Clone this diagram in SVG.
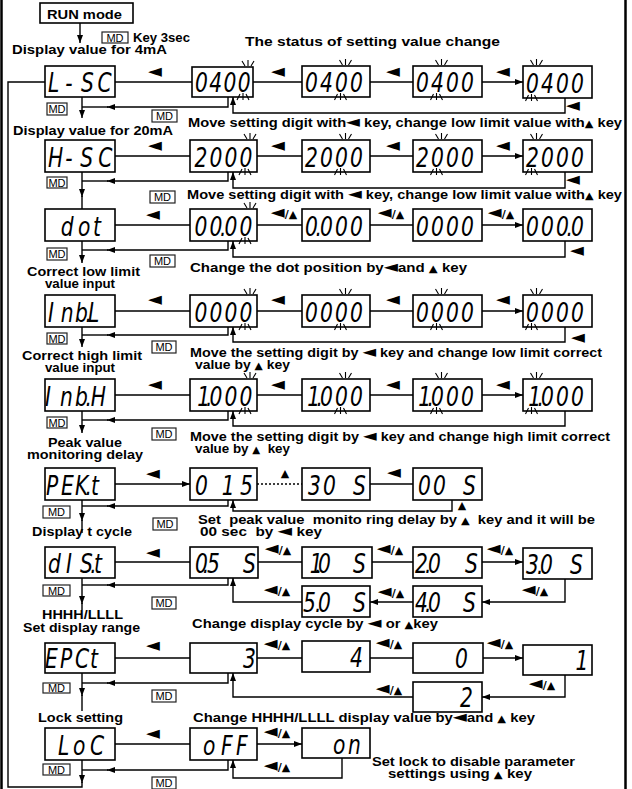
<svg xmlns="http://www.w3.org/2000/svg" xmlns:xlink="http://www.w3.org/1999/xlink" width="632" height="789" viewBox="0 0 632 789">
<defs>
<style>
.bx{fill:#fff;stroke:#000;stroke-width:1.6}
.ln{fill:none;stroke:#000;stroke-width:1.4}
.ar{marker-end:url(#ah)}
.dt{stroke-dasharray:2 2}
.t{font-family:"Liberation Sans",Arial,sans-serif;font-weight:bold;font-size:13px;fill:#000}
.sm{font-family:"DejaVu Sans",sans-serif;font-size:16px}
.sa{font-family:"DejaVu Sans",sans-serif;font-size:10px}
.sg{font-family:"DejaVu Sans",sans-serif;font-style:italic;font-size:27px;fill:#000}
.sy{font-family:"DejaVu Sans",sans-serif;font-weight:bold;font-size:18px;fill:#000;text-anchor:middle}
.sl{font-size:11px}
.tr{font-size:11px}
.md rect{fill:#fff;stroke:#222;stroke-width:1.2}
.md text{font-family:"Liberation Sans",Arial,sans-serif;font-size:11px;fill:#000;text-anchor:middle}
.bk{fill:none;stroke:#000;stroke-width:1.1}
</style>
<marker id="ah" viewBox="0 0 8 6" refX="8" refY="3" markerWidth="8" markerHeight="6" markerUnits="userSpaceOnUse" orient="auto"><path d="M0,0L8,3L0,6z"/></marker>
<path id="bt" class="bk" d="M-6,-6L-3,-1M0,-7V-1M6,-6L3,-1"/>
<path id="bb" class="bk" d="M-6,3L-3,-3M0,3V-4M6,3L3,-3"/>
</defs>
<rect x="1.5" y="-5" width="624" height="810" fill="none" stroke="#000" stroke-width="2.5"/>

<g id="connectors">
<path class="ln ar" d="M80,23V43"/>
<path class="ln ar" d="M115,82H192M253,82H302M370,82H413M482,82H523"/>
<path class="ln ar" d="M115,156H190M257,156H302M370,156H413M482,156H523"/>
<path class="ln ar" d="M115,225H190M257,225H302M370,225H413M482,225H523"/>
<path class="ln ar" d="M115,311H190M257,311H302M370,311H413M482,311H523"/>
<path class="ln ar" d="M115,395H190M257,395H302M370,395H413M482,395H523"/>
<path class="ln ar" d="M115,484H190"/>
<path class="ln dt" d="M257,484H302"/>
<path class="ln" d="M370,484H413"/>
<path class="ln ar" d="M115,562H190M258,562H302M372,562H413M482,562H523"/>
<path class="ln ar" d="M565,579V602H482"/>
<path class="ln ar" d="M413,602H370"/>
<path class="ln ar" d="M302,602H233V578"/>
<path class="ln ar" d="M115,658H190M257,658H302M370,658H413M483,658H523"/>
<path class="ln ar" d="M565,675V697H482"/>
<path class="ln ar" d="M413,697H233V673"/>
<path class="ln ar" d="M115,744H190M257,744H302"/>
<path class="ln ar" d="M342,758V778H233V760"/>
<path class="ln ar" d="M565,98V113H233V97"/>
<path class="ln ar" d="M565,172V188H233V172"/>
<path class="ln ar" d="M565,241V257H233V241"/>
<path class="ln ar" d="M565,327V342H233V327"/>
<path class="ln ar" d="M565,411V426H233V411"/>
<path class="ln ar" d="M452,500V511H233V500"/>
<path class="ln ar" d="M228,97V107H107"/><path class="ln" d="M108,107H82"/>
<path class="ln ar" d="M228,172V181H107"/><path class="ln" d="M108,181H82"/>
<path class="ln ar" d="M228,241V250H107"/><path class="ln" d="M108,250H82"/>
<path class="ln ar" d="M228,327V335H107"/><path class="ln" d="M108,335H82"/>
<path class="ln ar" d="M228,411V420H107"/><path class="ln" d="M108,420H82"/>
<path class="ln ar" d="M228,500V506H107"/><path class="ln" d="M108,506H82"/>
<path class="ln ar" d="M228,578V585H107"/><path class="ln" d="M108,585H82"/>
<path class="ln ar" d="M228,673V683H107"/><path class="ln" d="M108,683H82"/>
<path class="ln ar" d="M228,760V770H107"/><path class="ln" d="M108,770H82"/>
<path class="ln ar" d="M82,97V118"/>
<path class="ln ar" d="M82,172V197"/><path class="ln" d="M82,196V209"/>
<path class="ln ar" d="M82,241V263"/>
<path class="ln ar" d="M82,327V347"/>
<path class="ln ar" d="M82,411V433"/>
<path class="ln ar" d="M82,500V521"/><path class="ln" d="M82,520V533"/>
<path class="ln ar" d="M82,578V604"/><path class="ln" d="M82,603V610"/>
<path class="ln ar" d="M82,673V696"/><path class="ln" d="M82,695V711"/>
<path class="ln ar" d="M82,760V783"/><path class="ln" d="M82,782V787H8V82H45"/>
<g id="conn-labels">
<text class="sy" x="155" y="77">◄</text><text class="sy" x="278" y="77">◄</text><text class="sy" x="393" y="77">◄</text><text class="sy" x="503" y="77">◄</text><text class="sy" x="573" y="111">◄</text>
<text class="sy" x="155" y="151">◄</text><text class="sy" x="278" y="151">◄</text><text class="sy" x="393" y="151">◄</text><text class="sy" x="503" y="151">◄</text><text class="sy" x="573" y="185">◄</text>
<text class="sy" x="153" y="220">◄</text>
<text class="sy" x="284" y="218">◄<tspan class="sl">/</tspan><tspan class="tr">▲</tspan></text>
<text class="sy" x="391" y="218">◄<tspan class="sl">/</tspan><tspan class="tr">▲</tspan></text>
<text class="sy" x="501" y="218">◄<tspan class="sl">/</tspan><tspan class="tr">▲</tspan></text>
<text class="sy" x="577" y="256">◄</text>
<text class="sy" x="155" y="305">◄</text><text class="sy" x="278" y="305">◄</text><text class="sy" x="393" y="305">◄</text><text class="sy" x="503" y="305">◄</text><text class="sy" x="578" y="343">◄</text>
<text class="sy" x="155" y="390">◄</text><text class="sy" x="278" y="390">◄</text><text class="sy" x="393" y="390">◄</text><text class="sy" x="503" y="390">◄</text>
<text class="sy" x="153" y="479">◄</text><text class="sy tr" x="285" y="477">▲</text><text class="sy" x="394" y="478">◄</text><text class="sy tr" x="462" y="509">▲</text>
<text class="sy" x="153" y="558">◄</text>
<text class="sy" x="278" y="554">◄<tspan class="sl">/</tspan><tspan class="tr">▲</tspan></text>
<text class="sy" x="390" y="554">◄<tspan class="sl">/</tspan><tspan class="tr">▲</tspan></text>
<text class="sy" x="500" y="554">◄<tspan class="sl">/</tspan><tspan class="tr">▲</tspan></text>
<text class="sy" x="535" y="595">◄<tspan class="sl">/</tspan><tspan class="tr">▲</tspan></text>
<text class="sy" x="391" y="597">◄<tspan class="sl">/</tspan><tspan class="tr">▲</tspan></text>
<text class="sy" x="277" y="595">◄<tspan class="sl">/</tspan><tspan class="tr">▲</tspan></text>
<text class="sy" x="153" y="651">◄</text>
<text class="sy" x="277" y="649">◄<tspan class="sl">/</tspan><tspan class="tr">▲</tspan></text>
<text class="sy" x="389" y="648">◄<tspan class="sl">/</tspan><tspan class="tr">▲</tspan></text>
<text class="sy" x="500" y="648">◄<tspan class="sl">/</tspan><tspan class="tr">▲</tspan></text>
<text class="sy" x="542" y="689">◄<tspan class="sl">/</tspan><tspan class="tr">▲</tspan></text>
<text class="sy" x="389" y="694">◄<tspan class="sl">/</tspan><tspan class="tr">▲</tspan></text>
<text class="sy" x="153" y="739">◄</text>
<text class="sy" x="277" y="737">◄<tspan class="sl">/</tspan><tspan class="tr">▲</tspan></text>
<text class="sy" x="277" y="771">◄<tspan class="sl">/</tspan><tspan class="tr">▲</tspan></text>
</g>
</g>

<g id="run"><rect class="bx" x="40" y="3" width="93" height="20"/><text class="t" x="47" y="19" textLength="75" lengthAdjust="spacingAndGlyphs">RUN mode</text></g>

<g id="md-keys">
<g class="md" transform="translate(102,32)"><rect width="26" height="11"/><text x="13" y="9.5">MD</text></g>
<g class="md" transform="translate(47,103)"><rect width="20" height="12"/><text x="10" y="10">MD</text></g>
<g class="md" transform="translate(152,110)"><rect width="25" height="12"/><text x="12.5" y="10">MD</text></g>
<g class="md" transform="translate(47,177)"><rect width="20" height="11"/><text x="10" y="9.5">MD</text></g>
<g class="md" transform="translate(150,191)"><rect width="25" height="12"/><text x="12.5" y="10">MD</text></g>
<g class="md" transform="translate(47,248)"><rect width="20" height="12"/><text x="10" y="10">MD</text></g>
<g class="md" transform="translate(150,255)"><rect width="25" height="12"/><text x="12.5" y="10">MD</text></g>
<g class="md" transform="translate(47,333)"><rect width="20" height="11"/><text x="10" y="9.5">MD</text></g>
<g class="md" transform="translate(152,341)"><rect width="24" height="12"/><text x="12" y="10">MD</text></g>
<g class="md" transform="translate(47,417)"><rect width="20" height="11"/><text x="10" y="9.5">MD</text></g>
<g class="md" transform="translate(152,428)"><rect width="24" height="12"/><text x="12" y="10">MD</text></g>
<g class="md" transform="translate(43,506)"><rect width="27" height="12"/><text x="13.5" y="10">MD</text></g>
<g class="md" transform="translate(153,518)"><rect width="24" height="12"/><text x="12" y="10">MD</text></g>
<g class="md" transform="translate(43,585)"><rect width="27" height="11"/><text x="13.5" y="9.5">MD</text></g>
<g class="md" transform="translate(152,597)"><rect width="24" height="12"/><text x="12" y="10">MD</text></g>
<g class="md" transform="translate(43,683)"><rect width="27" height="10"/><text x="13.5" y="9">MD</text></g>
<g class="md" transform="translate(152,690)"><rect width="24" height="12"/><text x="12" y="10">MD</text></g>
<g class="md" transform="translate(43,764)"><rect width="27" height="11"/><text x="13.5" y="9.5">MD</text></g>
<g class="md" transform="translate(152,777)"><rect width="24" height="12"/><text x="12" y="10">MD</text></g>
</g>

<g id="r1c0" transform="translate(45,66)"><rect class="bx" width="70" height="31"/><text class="sg" transform="scale(.75,1)" x="4 27 48 70" y="26">L-SC</text></g>
<g id="r1c1" transform="translate(192,67)"><rect class="bx" width="61" height="30"/><text class="sg" transform="scale(.75,1)" x="4 23 42 61" y="25">0400</text><use xlink:href="#bt" x="56" y="0"/><use xlink:href="#bb" x="51" y="30"/></g>
<g id="r1c2" transform="translate(302,66)"><rect class="bx" width="68" height="31"/><text class="sg" transform="scale(.75,1)" x="4 24 44 64" y="26">0400</text><use xlink:href="#bt" x="43.5" y="0"/><use xlink:href="#bb" x="38.5" y="31"/></g>
<g id="r1c3" transform="translate(413,66)"><rect class="bx" width="69" height="31"/><text class="sg" transform="scale(.75,1)" x="4 24 44 64" y="26">0400</text><use xlink:href="#bt" x="28.5" y="0"/><use xlink:href="#bb" x="23.5" y="31"/></g>
<g id="r1c4" transform="translate(523,66)"><rect class="bx" width="69" height="32"/><text class="sg" transform="scale(.75,1)" x="4 24 44 64" y="27">0400</text><use xlink:href="#bt" x="13.5" y="0"/><use xlink:href="#bb" x="8.5" y="32"/></g>

<g id="r2c0" transform="translate(45,140)"><rect class="bx" width="70" height="32"/><text class="sg" transform="scale(.75,1)" x="4 27 47 71" y="27">H-SC</text></g>
<g id="r2c1" transform="translate(190,140)"><rect class="bx" width="67" height="32"/><text class="sg" transform="scale(.75,1)" x="6 26 46 66" y="27">2000</text><use xlink:href="#bt" x="60" y="0"/><use xlink:href="#bb" x="55" y="32"/></g>
<g id="r2c2" transform="translate(302,140)"><rect class="bx" width="68" height="32"/><text class="sg" transform="scale(.75,1)" x="4 24 44 64" y="27">2000</text><use xlink:href="#bt" x="43.5" y="0"/><use xlink:href="#bb" x="38.5" y="32"/></g>
<g id="r2c3" transform="translate(413,140)"><rect class="bx" width="69" height="32"/><text class="sg" transform="scale(.75,1)" x="4 24 44 64" y="27">2000</text><use xlink:href="#bt" x="28.5" y="0"/><use xlink:href="#bb" x="23.5" y="32"/></g>
<g id="r2c4" transform="translate(523,140)"><rect class="bx" width="69" height="32"/><text class="sg" transform="scale(.75,1)" x="4 24 44 64" y="27">2000</text><use xlink:href="#bt" x="13.5" y="0"/><use xlink:href="#bb" x="8.5" y="32"/></g>

<g id="r3c0" transform="translate(45,209)"><rect class="bx" width="70" height="32"/><text class="sg" transform="scale(.75,1)" x="21 44 64" y="27">dot</text></g>
<g id="r3c1" transform="translate(190,209)"><rect class="bx" width="67" height="32"/><text class="sg" transform="scale(.75,1)" x="6 26 40 46 66" y="27">00.00</text><use xlink:href="#bt" x="60" y="0"/><use xlink:href="#bb" x="55" y="32"/></g>
<g id="r3c2" transform="translate(302,209)"><rect class="bx" width="68" height="32"/><text class="sg" transform="scale(.75,1)" x="4 18 24 44 64" y="27">0.000</text></g>
<g id="r3c3" transform="translate(413,209)"><rect class="bx" width="69" height="32"/><text class="sg" transform="scale(.75,1)" x="4 24 44 64" y="27">0000</text></g>
<g id="r3c4" transform="translate(523,209)"><rect class="bx" width="69" height="32"/><text class="sg" transform="scale(.75,1)" x="4 24 44 58 64" y="27">000.0</text></g>

<g id="r4c0" transform="translate(45,295)"><rect class="bx" width="70" height="32"/><text class="sg" transform="scale(.75,1)" x="4 21 40 54 57.3" y="27">Inb.L</text></g>
<g id="r4c1" transform="translate(190,295)"><rect class="bx" width="67" height="32"/><text class="sg" transform="scale(.75,1)" x="6 26 46 66" y="27">0000</text><use xlink:href="#bt" x="60" y="0"/><use xlink:href="#bb" x="55" y="32"/></g>
<g id="r4c2" transform="translate(302,295)"><rect class="bx" width="68" height="32"/><text class="sg" transform="scale(.75,1)" x="4 24 44 64" y="27">0000</text><use xlink:href="#bt" x="43.5" y="0"/><use xlink:href="#bb" x="38.5" y="32"/></g>
<g id="r4c3" transform="translate(413,295)"><rect class="bx" width="69" height="32"/><text class="sg" transform="scale(.75,1)" x="4 24 44 64" y="27">0000</text><use xlink:href="#bt" x="28.5" y="0"/><use xlink:href="#bb" x="23.5" y="32"/></g>
<g id="r4c4" transform="translate(523,295)"><rect class="bx" width="69" height="32"/><text class="sg" transform="scale(.75,1)" x="4 24 44 64" y="27">0000</text><use xlink:href="#bt" x="13.5" y="0"/><use xlink:href="#bb" x="8.5" y="32"/></g>

<g id="r5c0" transform="translate(45,379)"><rect class="bx" width="70" height="32"/><text class="sg" transform="scale(.75,1)" x="0 20 40 54 61" y="27">Inb.H</text></g>
<g id="r5c1" transform="translate(190,379)"><rect class="bx" width="67" height="32"/><text class="sg" transform="scale(.75,1)" x="9.7 21.5 26 46 66" y="27">1.000</text><use xlink:href="#bt" x="60" y="0"/><use xlink:href="#bb" x="55" y="32"/></g>
<g id="r5c2" transform="translate(302,379)"><rect class="bx" width="68" height="32"/><text class="sg" transform="scale(.75,1)" x="7 19.5 24 44 64" y="27">1.000</text><use xlink:href="#bt" x="43.5" y="0"/><use xlink:href="#bb" x="38.5" y="32"/></g>
<g id="r5c3" transform="translate(413,379)"><rect class="bx" width="69" height="32"/><text class="sg" transform="scale(.75,1)" x="7 19.5 24 44 64" y="27">1.000</text><use xlink:href="#bt" x="28.5" y="0"/><use xlink:href="#bb" x="23.5" y="32"/></g>
<g id="r5c4" transform="translate(523,379)"><rect class="bx" width="69" height="32"/><text class="sg" transform="scale(.75,1)" x="7 19.5 24 44 64" y="27">1.000</text><use xlink:href="#bt" x="13.5" y="0"/><use xlink:href="#bb" x="8.5" y="32"/></g>

<g id="r6c0" transform="translate(45,468)"><rect class="bx" width="70" height="32"/><text class="sg" transform="scale(.75,1)" x="1.3 21.3 40 54 61.3" y="27">PEK.t</text></g>
<g id="r6c1" transform="translate(190,468)"><rect class="bx" width="67" height="32"/><text class="sg" transform="scale(.75,1)" x="6.7 25 42.5 66.7" y="27">0 15</text></g>
<g id="r6c2" transform="translate(302,468)"><rect class="bx" width="68" height="32"/><text class="sg" transform="scale(.75,1)" x="8 28 48 68" y="27">30 S</text></g>
<g id="r6c3" transform="translate(413,468)"><rect class="bx" width="69" height="32"/><text class="sg" transform="scale(.75,1)" x="6.7 26.7 46.7 66.7" y="27">00 S</text></g>

<g id="r7c0" transform="translate(45,547)"><rect class="bx" width="70" height="31"/><text class="sg" transform="scale(.75,1)" x="4 28 46.7 60.5 65.3" y="26">dIS.t</text></g>
<g id="r7c1" transform="translate(190,547)"><rect class="bx" width="68" height="31"/><text class="sg" transform="scale(.75,1)" x="6.7 17 22.7 50 70.7" y="26">0.5 S</text></g>
<g id="r7c2" transform="translate(302,547)"><rect class="bx" width="70" height="31"/><text class="sg" transform="scale(.75,1)" x="10.4 17.5 21.3 48 68" y="26">1.0 S</text></g>
<g id="r7c3" transform="translate(413,547)"><rect class="bx" width="69" height="31"/><text class="sg" transform="scale(.75,1)" x="2.7 16 20 48 69.3" y="26">2.0 S</text></g>
<g id="r7c4" transform="translate(523,548)"><rect class="bx" width="69" height="31"/><text class="sg" transform="scale(.75,1)" x="4 18.7 22.7 45 62.7" y="26">3.0 S</text></g>
<g id="r7b2" transform="translate(302,586)"><rect class="bx" width="68" height="31"/><text class="sg" transform="scale(.75,1)" x="1.3 17.3 21.3 48 68" y="26">5.0 S</text></g>
<g id="r7b3" transform="translate(413,586)"><rect class="bx" width="69" height="31"/><text class="sg" transform="scale(.75,1)" x="2.7 16 20 46 66.7" y="26">4.0 S</text></g>

<g id="r8c0" transform="translate(45,643)"><rect class="bx" width="70" height="30"/><text class="sg" transform="scale(.75,1)" x="0 20 40 60" y="25">EPCt</text></g>
<g id="r8c1" transform="translate(190,643)"><rect class="bx" width="67" height="30"/><text class="sg" transform="scale(.75,1)" x="70.7" y="25">3</text></g>
<g id="r8c2" transform="translate(302,641)"><rect class="bx" width="68" height="31"/><text class="sg" transform="scale(.75,1)" x="64" y="26">4</text></g>
<g id="r8c3" transform="translate(413,643)"><rect class="bx" width="70" height="30"/><text class="sg" transform="scale(.75,1)" x="56" y="25">0</text></g>
<g id="r8c4" transform="translate(523,645)"><rect class="bx" width="69" height="30"/><text class="sg" transform="scale(.75,1)" x="70" y="25">1</text></g>
<g id="r8b3" transform="translate(413,682)"><rect class="bx" width="69" height="30"/><text class="sg" transform="scale(.75,1)" x="62.7" y="25">2</text></g>

<g id="r9c0" transform="translate(45,728)"><rect class="bx" width="70" height="32"/><text class="sg" transform="scale(.75,1)" x="17.3 37.3 60" y="27">LoC</text></g>
<g id="r9c1" transform="translate(190,728)"><rect class="bx" width="67" height="32"/><text class="sg" transform="scale(.75,1)" x="17.3 41.3 61.3" y="27">oFF</text></g>
<g id="r9c2" transform="translate(302,728)"><rect class="bx" width="68" height="30"/><text class="sg" transform="scale(.75,1)" x="41.3 61.3" y="26">on</text></g>

<g id="labels">
<text class="t" x="133" y="42" textLength="57" lengthAdjust="spacingAndGlyphs">Key 3sec</text>
<text class="t" x="12" y="54" textLength="155" lengthAdjust="spacingAndGlyphs">Display value for 4mA</text>
<text class="t" x="245" y="46" font-size="14" textLength="255" lengthAdjust="spacingAndGlyphs">The status of setting value change</text>
<text class="t" x="188" y="127" textLength="434" lengthAdjust="spacingAndGlyphs">Move setting digit with<tspan class="sm">◄</tspan> key, change low limit value with<tspan class="sa">▲</tspan> key</text>
<text class="t" x="13" y="135" textLength="160" lengthAdjust="spacingAndGlyphs">Display value for 20mA</text>
<text class="t" x="187" y="199" textLength="435" lengthAdjust="spacingAndGlyphs">Move setting digit with <tspan class="sm">◄</tspan> key, change low limit value with<tspan class="sa">▲</tspan> key</text>
<text class="t" x="190" y="272" textLength="277" lengthAdjust="spacingAndGlyphs">Change the dot position by<tspan class="sm">◄</tspan>and <tspan class="sa">▲</tspan> key</text>
<text class="t" x="27" y="276" textLength="113" lengthAdjust="spacingAndGlyphs">Correct low limit</text>
<text class="t" x="45" y="288" textLength="70" lengthAdjust="spacingAndGlyphs">value input</text>
<text class="t" x="22" y="360" textLength="120" lengthAdjust="spacingAndGlyphs">Correct high limit</text>
<text class="t" x="45" y="372" textLength="70" lengthAdjust="spacingAndGlyphs">value input</text>
<text class="t" x="190" y="357" textLength="412" lengthAdjust="spacingAndGlyphs">Move the setting digit by <tspan class="sm">◄</tspan> key and change low limit correct</text>
<text class="t" x="195" y="369" textLength="95" lengthAdjust="spacingAndGlyphs">value by <tspan class="sa">▲</tspan> key</text>
<text class="t" x="48" y="447" textLength="74" lengthAdjust="spacingAndGlyphs">Peak value</text>
<text class="t" x="27" y="459" textLength="116" lengthAdjust="spacingAndGlyphs">monitoring delay</text>
<text class="t" x="190" y="441" textLength="420" lengthAdjust="spacingAndGlyphs">Move the setting digit by <tspan class="sm">◄</tspan> key and change high limit correct</text>
<text class="t" x="195" y="453" textLength="95" lengthAdjust="spacingAndGlyphs" xml:space="preserve">value by <tspan class="sa">▲</tspan>  key</text>
<text class="t" x="198" y="524" textLength="397" lengthAdjust="spacingAndGlyphs" xml:space="preserve">Set  peak value  monito ring delay by <tspan class="sa">▲</tspan>  key and it will be</text>
<text class="t" x="200" y="536" textLength="122" lengthAdjust="spacingAndGlyphs" xml:space="preserve">00 sec  by <tspan class="sm">◄</tspan> key</text>
<text class="t" x="32" y="536" textLength="100" lengthAdjust="spacingAndGlyphs">Display t cycle</text>
<text class="t" x="42" y="619" textLength="81" lengthAdjust="spacingAndGlyphs">HHHH/LLLL</text>
<text class="t" x="23" y="632" textLength="117" lengthAdjust="spacingAndGlyphs">Set display range</text>
<text class="t" x="192" y="628" textLength="246" lengthAdjust="spacingAndGlyphs">Change display cycle by <tspan class="sm">◄</tspan> or <tspan class="sa">▲</tspan>key</text>
<text class="t" x="38" y="722" textLength="85" lengthAdjust="spacingAndGlyphs">Lock setting</text>
<text class="t" x="193" y="722" textLength="342" lengthAdjust="spacingAndGlyphs">Change HHHH/LLLL display value by<tspan class="sm">◄</tspan>and <tspan class="sa">▲</tspan> key</text>
<text class="t" x="372" y="766" font-size="12.5" textLength="203" lengthAdjust="spacingAndGlyphs">Set lock to disable parameter</text>
<text class="t" x="388" y="778" font-size="12.5" textLength="144" lengthAdjust="spacingAndGlyphs">settings using <tspan class="sa">▲</tspan> key</text>
</g>
</svg>
